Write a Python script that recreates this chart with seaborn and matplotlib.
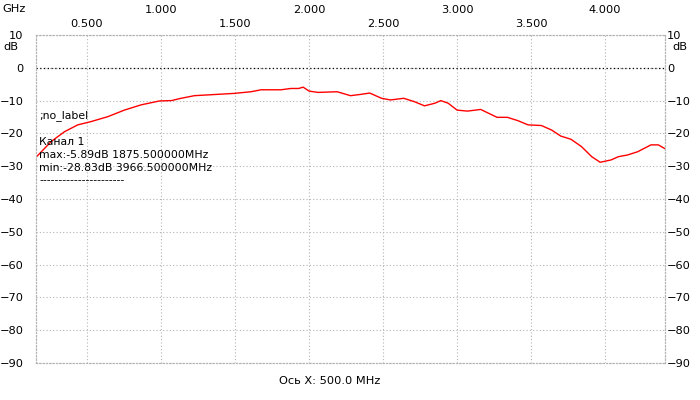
import pandas as pd
import matplotlib.pyplot as plt
import seaborn as sns

# trace (GHz, dB)
freq_ghz = [0.159, 0.257, 0.347, 0.437, 0.527, 0.640, 0.752, 0.865, 0.990, 1.070,
            1.135, 1.225, 1.380, 1.495, 1.608, 1.676, 1.810, 1.878, 1.930, 1.960,
            2.000, 2.060, 2.190, 2.280, 2.350, 2.410, 2.490, 2.550, 2.640, 2.710,
            2.780, 2.850, 2.890, 2.940, 3.000, 3.070, 3.160, 3.270, 3.340, 3.410,
            3.480, 3.570, 3.640, 3.700, 3.770, 3.840, 3.910, 3.967, 4.040, 4.090,
            4.150, 4.220, 4.310, 4.360, 4.410]
level_db = [-27.1, -22.5, -19.5, -17.4, -16.4, -14.9, -12.9, -11.3, -10.1, -10.0,
            -9.3, -8.5, -8.1, -7.8, -7.3, -6.7, -6.7, -6.3, -6.3, -5.9,
            -7.1, -7.5, -7.3, -8.5, -8.1, -7.7, -9.3, -9.8, -9.3, -10.3,
            -11.6, -10.8, -10.0, -10.8, -12.9, -13.2, -12.7, -15.1, -15.1, -16.1,
            -17.4, -17.6, -19.0, -20.8, -21.8, -24.0, -27.1, -28.8, -28.1, -27.1,
            -26.6, -25.6, -23.5, -23.5, -24.8]

major_ticks = [1.0, 2.0, 3.0, 4.0]
minor_ticks = [0.5, 1.5, 2.5, 3.5]
y_ticks = list(range(10, -100, -10))

info_lines = [';no_label', 'Канал 1', 'max:-5.89dB 1875.500000MHz',
              'min:-28.83dB 3966.500000MHz', '----------------------']
info_y = [116, 142, 155, 168, 180]

df = pd.DataFrame({'freq': freq_ghz, 'db': level_db})

sns.set_style('white')
plt.rcParams['font.family'] = ['DejaVu Sans']
plt.rcParams['text.color'] = 'black'
plt.rcParams['xtick.color'] = 'black'
plt.rcParams['ytick.color'] = 'black'
fs = 8.2

fig = plt.figure(figsize=(7, 4), dpi=100)
ax = fig.add_axes([36 / 700, 1 - 363 / 400, 629 / 700, 328 / 400])

sns.lineplot(data=df, x='freq', y='db', ax=ax, color='#ff0000', linewidth=1.0)

ax.set_xlim(0.155, 4.405)
ax.set_ylim(-90, 10)

ax.xaxis.tick_top()
ax.set_xticks(major_ticks)
ax.set_xticklabels([f'{t:.3f}' for t in major_ticks])
ax.set_xticks(minor_ticks, minor=True)
ax.set_xticklabels([f'{t:.3f}' for t in minor_ticks], minor=True)
ax.tick_params(axis='x', which='major', length=0, pad=14.5, labelsize=fs)
ax.tick_params(axis='x', which='minor', length=0, pad=4.5, labelsize=fs)

ax.set_yticks(y_ticks)
ax.tick_params(axis='y', length=0, labelsize=fs, pad=9)

# right-hand scale
ax2 = ax.twinx()
ax2.set_ylim(-90, 10)
ax2.set_yticks(y_ticks)
ax2.tick_params(axis='y', length=0, labelsize=fs, pad=1.5)
ax2.grid(False)

ax.grid(True, which='both', color='#b4b4b4', linestyle=(0, (1, 2)), linewidth=0.8)
ax.axhline(0, color='black', linestyle=(0, (1, 2)), linewidth=0.9)
for a in (ax, ax2):
    for s in a.spines.values():
        s.set_linestyle((0, (1, 2)))
        s.set_color('#b4b4b4')
        s.set_linewidth(0.8)

ax.set_xlabel('')
ax.set_ylabel('')

fig.text(2 / 700, 1 - 9 / 400, 'GHz', fontsize=fs, va='center', ha='left')
fig.text(3 / 700, 1 - 47 / 400, 'dB', fontsize=fs, va='center', ha='left')
fig.text(672 / 700, 1 - 47 / 400, 'dB', fontsize=fs, va='center', ha='left')
fig.text(330 / 700, 1 - 381 / 400, 'Ось X: 500.0 MHz', fontsize=fs,
         va='center', ha='center')

for line, yy in zip(info_lines, info_y):
    fig.text(39 / 700, 1 - yy / 400, line, fontsize=7.8, va='center', ha='left')

fig.savefig('out.png', dpi=100)
